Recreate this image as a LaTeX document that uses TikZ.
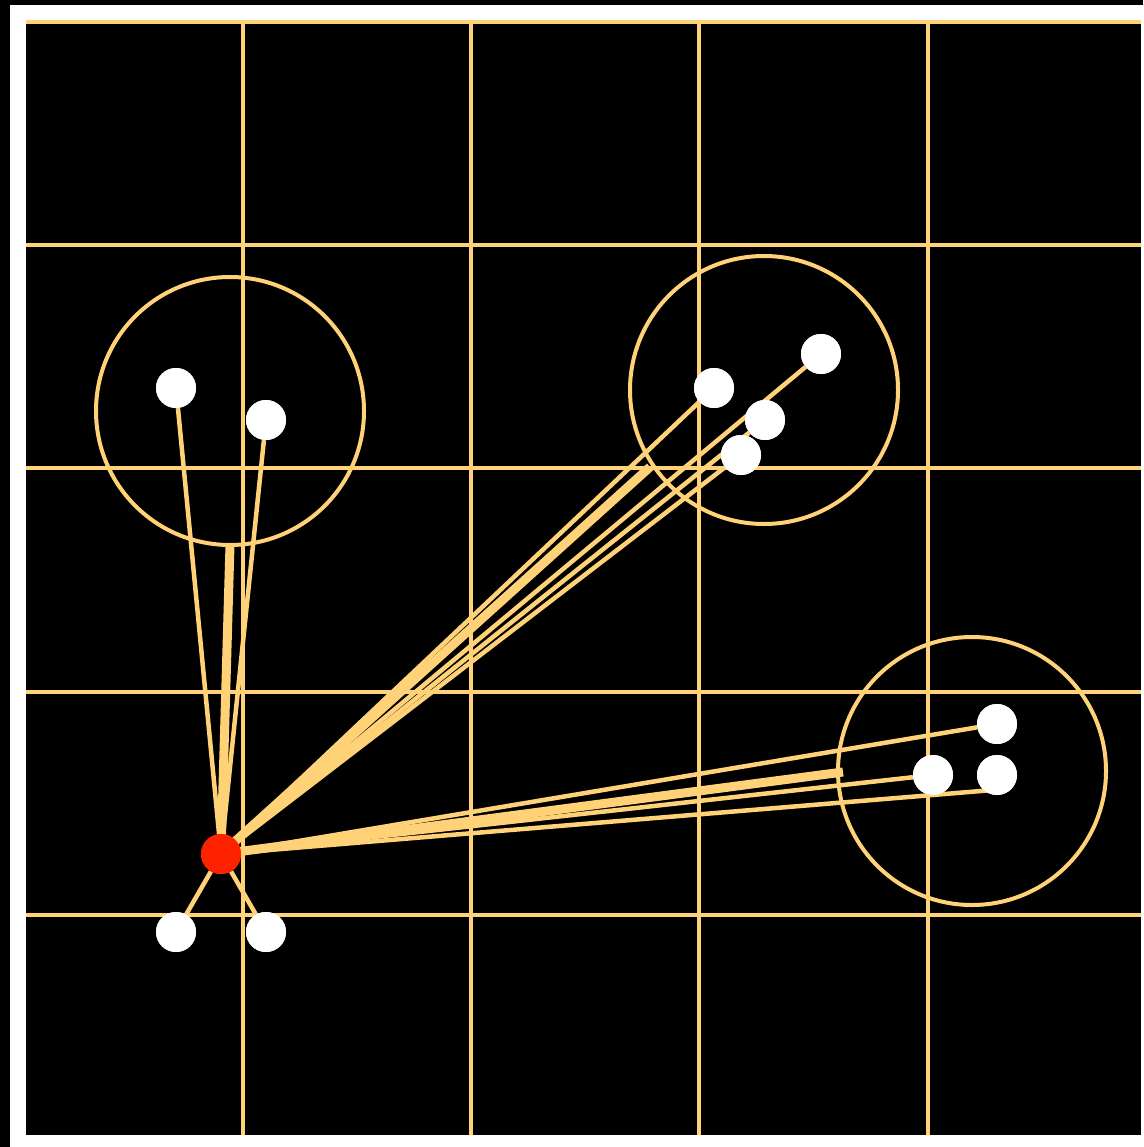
\documentclass[tikz,border=0pt]{standalone}
\begin{document}
\begin{tikzpicture}[x=1pt,y=-1pt,
  gridline/.style={draw=gold,line width=4pt},
  cluster/.style={circle,draw=gold,line width=4pt,minimum size=268pt,inner sep=0pt},
  member/.style={circle,fill=white,minimum size=40pt,inner sep=0pt},
  hub/.style={circle,fill=hubred,minimum size=40pt,inner sep=0pt},
  link/.style={draw=gold,line width=4.5pt},
  bundle/.style={draw=gold,line width=9pt}]
\definecolor{gold}{RGB}{255,210,120}
\definecolor{hubred}{RGB}{255,34,0}
\useasboundingbox (0,0) rectangle (1143,1147);
\fill[black] (0,0) rectangle (1143,1147);
\fill[white] (10,5) rectangle (1143,1147);
\fill[black] (26,22) rectangle (1141,1135);
% grid
\foreach \gx in {243,471,699,928} \draw[gridline] (\gx,22) -- (\gx,1135);
\foreach \gy in {22.5,245,468,692,915} \draw[gridline] (26,\gy) -- (1141,\gy);
% clusters
\node[cluster] (c1) at (230,411) {};
\node[cluster] (c2) at (764,390) {};
\node[cluster] (c3) at (972,771) {};
% anchor points for links and bundles
\coordinate (rc) at (221,854);
\coordinate (t1) at (230,545);
\coordinate (t2) at (650,467);
\coordinate (t3) at (843,772);
\coordinate (d3in) at (993,790);
% bundles
\draw[bundle] (rc) -- (t1);
\draw[bundle] (rc) -- (t2);
\draw[bundle] (rc) -- (t3);
% nodes
\node[member] (a1) at (176,388) {};
\node[member] (a2) at (266,420) {};
\node[member] (b1) at (714,388) {};
\node[member] (b2) at (821,354) {};
\node[member] (b3) at (765,420) {};
\node[member] (b4) at (741,455) {};
\node[member] (d1) at (997,724) {};
\node[member] (d2) at (933,775) {};
\node[member] (d3) at (997,775) {};
\node[member] (e1) at (176,932) {};
\node[member] (e2) at (266,932) {};
\node[hub] (r) at (rc) {};
% links
\foreach \m in {a1,a2,b1,b2,b3,b4,d1,d2,e1,e2} \draw[link] (r) -- (\m);
\draw[link] (r) -- (d3in);
% redraw nodes on top of link ends
\foreach \m in {a1,a2,b1,b2,b3,b4,d1,d2,d3,e1,e2} \node[member] at (\m) {};
\node[hub] at (rc) {};
\end{tikzpicture}
\end{document}
